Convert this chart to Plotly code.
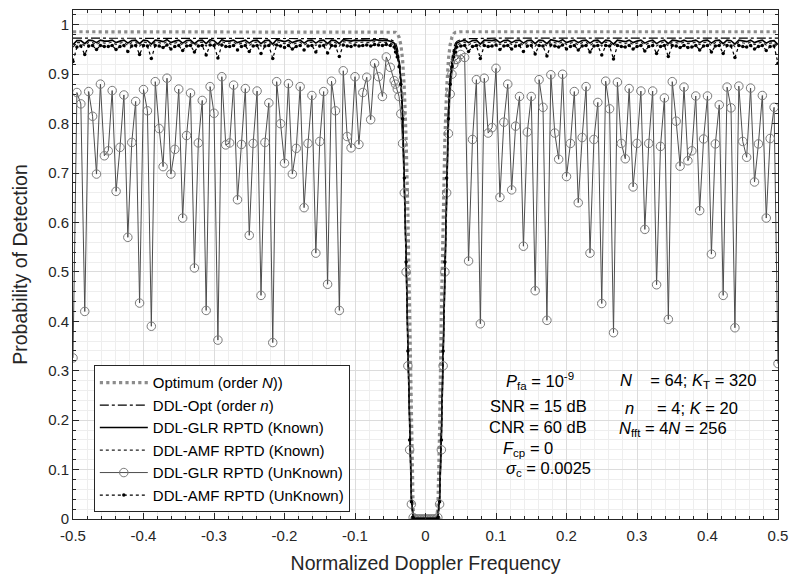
import numpy as np
import plotly.graph_objects as go

# ---------------- data ----------------
# uniform frequency grid outside the clutter notch (83 points each side)
F_LEFT = np.linspace(-0.5, -0.5 + 82 / 180, 83)
F_RIGHT = np.linspace(0.5 - 82 / 180, 0.5, 83)
# fine grid inside the notch
F_DIP = np.round(np.arange(-0.0425, 0.04251, 0.0025), 4)

# DDL-GLR RPTD (UnKnown)
GLR_UNK_LEFT = [0.326, 0.863, 0.84, 0.42, 0.865, 0.815, 0.698, 0.88, 0.735, 0.745,
                0.867, 0.663, 0.752, 0.858, 0.57, 0.762, 0.845, 0.437, 0.869, 0.826,
                0.39, 0.885, 0.79, 0.713, 0.892, 0.698, 0.748, 0.87, 0.609, 0.776,
                0.862, 0.508, 0.761, 0.847, 0.422, 0.875, 0.821, 0.362, 0.895, 0.757,
                0.761, 0.878, 0.646, 0.758, 0.871, 0.574, 0.76, 0.866, 0.4525, 0.762,
                0.842, 0.357, 0.885, 0.8, 0.72, 0.881, 0.698, 0.75, 0.875, 0.63,
                0.76, 0.857, 0.538, 0.764, 0.865, 0.475, 0.886, 0.826, 0.422, 0.907,
                0.774, 0.751, 0.895, 0.758, 0.863, 0.894, 0.808, 0.922, 0.895, 0.855,
                0.935, 0.914, 0.887]
GLR_UNK_DIP = [0.88, 0.87, 0.855, 0.82, 0.76, 0.66, 0.50, 0.31, 0.14, 0.03, 0.003,
               0, 0, 0, 0, 0, 0, 0, 0, 0, 0, 0, 0, 0,
               0.003, 0.03, 0.14, 0.31, 0.50, 0.66, 0.78, 0.86, 0.90, 0.92, 0.93]
GLR_UNK_RIGHT = [0.93, 0.94, 0.934, 0.522,
                 0.768, 0.889, 0.395, 0.892, 0.781, 0.792, 0.912, 0.651, 0.803, 0.88,
                 0.666, 0.795, 0.855, 0.552, 0.783, 0.855, 0.462, 0.889, 0.833, 0.402,
                 0.899, 0.781, 0.728, 0.9, 0.693, 0.76, 0.865, 0.64, 0.772, 0.875,
                 0.538, 0.768, 0.843, 0.436, 0.886, 0.83, 0.377, 0.884, 0.76, 0.729,
                 0.871, 0.672, 0.76, 0.866, 0.586, 0.76, 0.866, 0.474, 0.754, 0.852,
                 0.404, 0.885, 0.805, 0.714, 0.874, 0.725, 0.745, 0.856, 0.624, 0.769,
                 0.856, 0.536, 0.759, 0.838, 0.4525, 0.874, 0.832, 0.387, 0.876, 0.764,
                 0.732, 0.872, 0.682, 0.759, 0.857, 0.609, 0.77, 0.833, 0.3145]

# DDL-AMF RPTD (UnKnown)
AMF_UNK_LEFT = [0.926, 0.955, 0.957, 0.940, 0.957, 0.958, 0.950, 0.958, 0.956, 0.956,
                0.958, 0.950, 0.956, 0.958, 0.946, 0.957, 0.958, 0.940, 0.958, 0.957,
                0.932, 0.958, 0.957, 0.954, 0.959, 0.951, 0.956, 0.958, 0.948, 0.957,
                0.958, 0.945, 0.957, 0.958, 0.939, 0.959, 0.958, 0.933, 0.959, 0.956,
                0.956, 0.958, 0.949, 0.956, 0.958, 0.946, 0.957, 0.958, 0.942, 0.957,
                0.958, 0.932, 0.959, 0.957, 0.954, 0.958, 0.951, 0.956, 0.958, 0.949,
                0.957, 0.958, 0.945, 0.957, 0.958, 0.943, 0.958, 0.957, 0.936, 0.959,
                0.957, 0.956, 0.959, 0.957, 0.958, 0.959, 0.957, 0.960, 0.959, 0.958,
                0.960, 0.958, 0.955]
AMF_UNK_DIP = [0.945, 0.935, 0.915, 0.88, 0.81, 0.69, 0.52, 0.34, 0.16, 0.035, 0.003,
               0, 0, 0, 0, 0, 0, 0, 0, 0, 0, 0, 0, 0,
               0.003, 0.035, 0.16, 0.34, 0.52, 0.69, 0.81, 0.88, 0.915, 0.935, 0.945]
AMF_UNK_RIGHT = [0.955, 0.957, 0.958, 0.946, 0.956, 0.958, 0.932, 0.958, 0.956, 0.957,
                 0.959, 0.950, 0.957, 0.958, 0.951, 0.957, 0.958, 0.946, 0.957, 0.958,
                 0.941, 0.958, 0.957, 0.937, 0.959, 0.957, 0.955, 0.959, 0.951, 0.956,
                 0.958, 0.949, 0.957, 0.958, 0.945, 0.957, 0.958, 0.939, 0.958, 0.957,
                 0.931, 0.958, 0.956, 0.955, 0.958, 0.951, 0.956, 0.958, 0.947, 0.956,
                 0.958, 0.942, 0.956, 0.958, 0.936, 0.958, 0.957, 0.954, 0.958, 0.954,
                 0.955, 0.958, 0.949, 0.957, 0.958, 0.945, 0.957, 0.958, 0.942, 0.958,
                 0.957, 0.934, 0.958, 0.956, 0.955, 0.958, 0.951, 0.956, 0.958, 0.948,
                 0.956, 0.957, 0.922]

# DDL-GLR RPTD (Known)
GLR_K_LEFT = [0.960, 0.968, 0.968, 0.962, 0.969, 0.968, 0.964, 0.969, 0.967, 0.967,
              0.969, 0.964, 0.967, 0.969, 0.963, 0.968, 0.969, 0.962, 0.969, 0.968,
              0.961, 0.969, 0.968, 0.966, 0.970, 0.964, 0.967, 0.969, 0.963, 0.968,
              0.969, 0.962, 0.968, 0.969, 0.962, 0.970, 0.968, 0.961, 0.970, 0.967,
              0.967, 0.969, 0.964, 0.967, 0.969, 0.963, 0.968, 0.969, 0.962, 0.968,
              0.969, 0.961, 0.970, 0.968, 0.966, 0.969, 0.964, 0.967, 0.969, 0.963,
              0.968, 0.969, 0.963, 0.968, 0.969, 0.962, 0.969, 0.968, 0.962, 0.970,
              0.968, 0.967, 0.969, 0.968, 0.969, 0.969, 0.968, 0.970, 0.969, 0.968,
              0.969, 0.967, 0.963]
GLR_K_DIP = [0.955, 0.945, 0.925, 0.89, 0.82, 0.70, 0.53, 0.35, 0.17, 0.04, 0.004,
             0, 0, 0, 0, 0, 0, 0, 0, 0, 0, 0, 0, 0,
             0.004, 0.04, 0.17, 0.35, 0.53, 0.70, 0.82, 0.89, 0.925, 0.945, 0.955]
GLR_K_RIGHT = [0.963, 0.967, 0.969, 0.964, 0.968, 0.969, 0.961, 0.969, 0.968, 0.968,
               0.970, 0.964, 0.968, 0.969, 0.964, 0.968, 0.969, 0.963, 0.968, 0.969,
               0.962, 0.969, 0.968, 0.962, 0.970, 0.968, 0.966, 0.970, 0.964, 0.967,
               0.969, 0.964, 0.968, 0.969, 0.963, 0.968, 0.969, 0.962, 0.969, 0.968,
               0.961, 0.969, 0.967, 0.966, 0.969, 0.964, 0.967, 0.969, 0.963, 0.967,
               0.969, 0.962, 0.967, 0.969, 0.962, 0.969, 0.968, 0.966, 0.969, 0.966,
               0.967, 0.969, 0.964, 0.968, 0.969, 0.963, 0.968, 0.969, 0.962, 0.969,
               0.968, 0.961, 0.969, 0.967, 0.966, 0.969, 0.964, 0.967, 0.969, 0.963,
               0.967, 0.968, 0.960]

# DDL-AMF RPTD (Known)
AMF_K_LEFT = [0.955, 0.964, 0.964, 0.957, 0.965, 0.964, 0.960, 0.965, 0.963, 0.963,
              0.965, 0.960, 0.963, 0.965, 0.958, 0.964, 0.965, 0.957, 0.965, 0.964,
              0.956, 0.965, 0.964, 0.962, 0.966, 0.960, 0.963, 0.965, 0.959, 0.964,
              0.965, 0.958, 0.964, 0.965, 0.957, 0.966, 0.964, 0.956, 0.966, 0.963,
              0.963, 0.965, 0.960, 0.963, 0.965, 0.958, 0.964, 0.965, 0.957, 0.964,
              0.965, 0.956, 0.966, 0.964, 0.962, 0.965, 0.960, 0.963, 0.965, 0.959,
              0.964, 0.965, 0.958, 0.964, 0.965, 0.957, 0.965, 0.964, 0.957, 0.966,
              0.964, 0.963, 0.965, 0.964, 0.965, 0.965, 0.964, 0.966, 0.965, 0.964,
              0.965, 0.963, 0.959]
AMF_K_DIP = [0.95, 0.94, 0.92, 0.885, 0.815, 0.695, 0.525, 0.345, 0.165, 0.04, 0.004,
             0, 0, 0, 0, 0, 0, 0, 0, 0, 0, 0, 0, 0,
             0.004, 0.04, 0.165, 0.345, 0.525, 0.695, 0.815, 0.885, 0.92, 0.94, 0.95]
AMF_K_RIGHT = [0.959, 0.963, 0.965, 0.959, 0.964, 0.965, 0.956, 0.965, 0.964, 0.964,
               0.966, 0.960, 0.964, 0.965, 0.960, 0.964, 0.965, 0.958, 0.964, 0.965,
               0.957, 0.965, 0.964, 0.957, 0.966, 0.964, 0.962, 0.966, 0.960, 0.963,
               0.965, 0.959, 0.964, 0.965, 0.958, 0.964, 0.965, 0.957, 0.965, 0.964,
               0.956, 0.965, 0.963, 0.962, 0.965, 0.960, 0.963, 0.965, 0.959, 0.963,
               0.965, 0.957, 0.963, 0.965, 0.957, 0.965, 0.964, 0.962, 0.965, 0.962,
               0.963, 0.965, 0.960, 0.964, 0.965, 0.958, 0.964, 0.965, 0.957, 0.965,
               0.964, 0.956, 0.965, 0.963, 0.962, 0.965, 0.960, 0.963, 0.965, 0.959,
               0.963, 0.964, 0.955]

# DDL-Opt (order n) and Optimum (order N): smooth curves, sparse samples
F_SMOOTH = [-0.5, -0.3, -0.1, -0.06, -0.05, -0.045, -0.0425, -0.04, -0.0375, -0.035,
            -0.0325, -0.03, -0.0275, -0.025, -0.0225, -0.02, -0.0175, -0.015, 0.0,
            0.015, 0.0175, 0.02, 0.0225, 0.025, 0.0275, 0.03, 0.0325, 0.035, 0.0375,
            0.04, 0.0425, 0.045, 0.05, 0.06, 0.1, 0.3, 0.5]
DDL_OPT = [0.973, 0.973, 0.973, 0.972, 0.970, 0.967, 0.963, 0.953, 0.933, 0.898,
           0.83, 0.71, 0.54, 0.36, 0.18, 0.045, 0.005, 0.0, 0.0,
           0.0, 0.005, 0.045, 0.18, 0.36, 0.54, 0.71, 0.83, 0.898, 0.933,
           0.953, 0.963, 0.967, 0.970, 0.972, 0.973, 0.973, 0.973]
OPTIMUM = [0.986, 0.986, 0.986, 0.986, 0.986, 0.985, 0.985, 0.982, 0.975, 0.96,
           0.93, 0.87, 0.77, 0.62, 0.42, 0.18, 0.02, 0.0, 0.0,
           0.0, 0.02, 0.18, 0.42, 0.62, 0.77, 0.87, 0.93, 0.96, 0.975,
           0.982, 0.985, 0.985, 0.986, 0.986, 0.986, 0.986, 0.986]

F_ALL = np.concatenate([F_LEFT, F_DIP, F_RIGHT])

# ---------------- figure ----------------
FONT = "Liberation Sans, Arial, sans-serif"
fig = go.Figure()

fig.add_trace(go.Scatter(x=F_SMOOTH, y=OPTIMUM, mode="lines",
                         name="Optimum (order <i>N</i>))",
                         line=dict(color="#8c8c8c", width=3.2, dash="dot")))
fig.add_trace(go.Scatter(x=F_SMOOTH, y=DDL_OPT, mode="lines",
                         name="DDL-Opt (order <i>n</i>)",
                         line=dict(color="#000000", width=1.2, dash="dashdot")))
fig.add_trace(go.Scatter(x=F_ALL, y=GLR_K_LEFT + GLR_K_DIP + GLR_K_RIGHT, mode="lines",
                         name="DDL-GLR RPTD (Known)",
                         line=dict(color="#000000", width=1.6)))
fig.add_trace(go.Scatter(x=F_ALL, y=AMF_K_LEFT + AMF_K_DIP + AMF_K_RIGHT, mode="lines",
                         name="DDL-AMF RPTD (Known)",
                         line=dict(color="#222222", width=1.2, dash="dot")))
fig.add_trace(go.Scatter(x=F_ALL, y=GLR_UNK_LEFT + GLR_UNK_DIP + GLR_UNK_RIGHT,
                         mode="lines+markers", name="DDL-GLR RPTD (UnKnown)",
                         line=dict(color="#4d4d4d", width=1),
                         marker=dict(symbol="circle-open", size=8.5, color="#7a7a7a",
                                     line=dict(width=1, color="#7a7a7a"))))
fig.add_trace(go.Scatter(x=F_ALL, y=AMF_UNK_LEFT + AMF_UNK_DIP + AMF_UNK_RIGHT,
                         mode="lines+markers", name="DDL-AMF RPTD (UnKnown)",
                         line=dict(color="#000000", width=1.2, dash="dot"),
                         marker=dict(symbol="circle", size=3.5, color="#000000")))

L, R, T, B = 73, 13, 9, 62
W, H = 797, 581
pw, ph = W - L - R, H - T - B


def px(x):
    return (x - L) / pw


def py(y):
    return (H - B - y) / ph


axis_common = dict(
    showline=True, linecolor="#262626", linewidth=1, mirror="ticks",
    ticks="inside", ticklen=6, tickcolor="#262626",
    showgrid=True, gridcolor="#dcdcdc", gridwidth=1,
    zeroline=False,
    tickfont=dict(family=FONT, size=15, color="#262626"),
)

fig.update_xaxes(range=[-0.5, 0.5], tickmode="array",
                 tickvals=[-0.5, -0.4, -0.3, -0.2, -0.1, 0, 0.1, 0.2, 0.3, 0.4, 0.5],
                 ticktext=["-0.5", "-0.4", "-0.3", "-0.2", "-0.1", "0", "0.1", "0.2", "0.3", "0.4", "0.5"],
                 ticklabelstandoff=3,
                 minor=dict(dtick=0.02, tick0=0, ticks="inside", ticklen=3,
                            tickcolor="#262626", showgrid=True, gridcolor="#eeeeee"),
                 title=dict(text="Normalized Doppler Frequency",
                            font=dict(family=FONT, size=19.5, color="#262626"), standoff=13),
                 **axis_common)
fig.update_yaxes(range=[0, 1.03], tickmode="array",
                 tickvals=[0, 0.1, 0.2, 0.3, 0.4, 0.5, 0.6, 0.7, 0.8, 0.9, 1.0],
                 ticktext=["0", "0.1", "0.2", "0.3", "0.4", "0.5", "0.6", "0.7", "0.8", "0.9", "1"],
                 minor=dict(dtick=0.02, tick0=0, ticks="inside", ticklen=3,
                            tickcolor="#262626", showgrid=True, gridcolor="#eeeeee"),
                 title=dict(text="Probability of Detection",
                            font=dict(family=FONT, size=19.5, color="#262626"), standoff=15),
                 **axis_common)

ann_font = dict(family=FONT, size=16.5, color="#000000")
left_lines = [
    ("<i>P</i><sub>fa</sub> = 10<sup>-9</sup>", 544, 381),
    ("SNR = 15 dB", 542, 406),
    ("CNR = 60 dB", 542, 427),
    ("<i>F</i><sub>cp</sub> = 0", 532, 449),
    ("<i>σ</i><sub>c</sub> = 0.0025", 553, 469),
]
for txt, x, y in left_lines:
    fig.add_annotation(text=txt, x=px(x), y=py(y), xref="paper", yref="paper",
                       xanchor="center", yanchor="middle", showarrow=False, font=ann_font)
right_lines = [
    ("<i>N</i>&nbsp;&nbsp;&nbsp;&nbsp;= 64; <i>K</i><sub>T</sub> = 320", 623, 381),
    ("<i>n</i>&nbsp;&nbsp;&nbsp;&nbsp;&nbsp;= 4; <i>K</i> = 20", 628, 408),
    ("<i>N</i><sub>fft</sub> = 4<i>N</i> = 256", 622, 429),
]
for txt, x, y in right_lines:
    fig.add_annotation(text=txt, x=px(x), y=py(y), xref="paper", yref="paper",
                       xanchor="left", yanchor="middle", showarrow=False, font=ann_font)

fig.update_layout(
    width=W, height=H,
    margin=dict(l=L, r=R, t=T, b=B),
    paper_bgcolor="white", plot_bgcolor="white",
    font=dict(family=FONT, color="#262626"),
    showlegend=True,
    legend=dict(x=px(94), y=py(365), xanchor="left", yanchor="top",
                bgcolor="white", bordercolor="#262626", borderwidth=1,
                font=dict(family=FONT, size=15, color="#000000"),
                tracegroupgap=0, itemwidth=48),
)

fig.write_html("out.html")
